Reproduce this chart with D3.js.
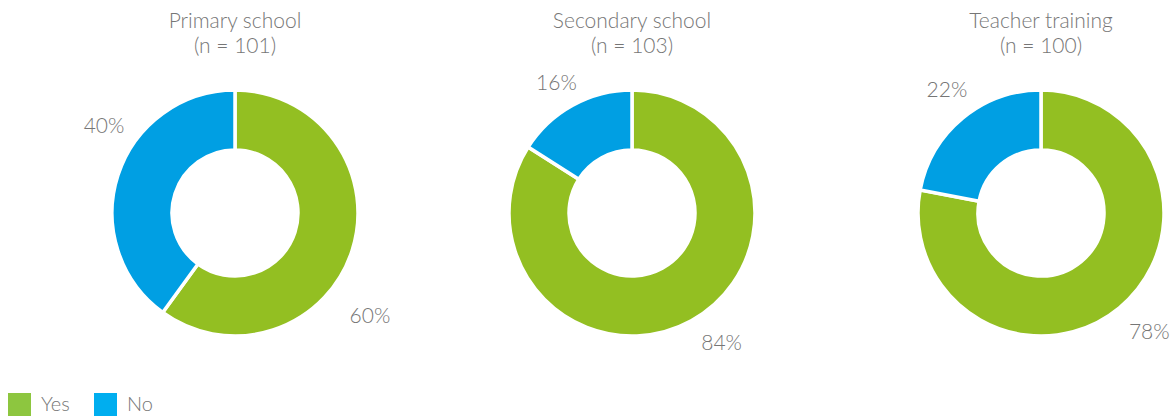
<!DOCTYPE html>
<html><head><meta charset="utf-8">
<script src="https://cdn.jsdelivr.net/npm/d3@7"></script>
<style>
body{margin:0;background:#fff;}
svg text{font-family:Lato,"Open Sans",sans-serif;font-weight:300;fill:#767676;}
</style></head>
<body><svg id="c" width="1175" height="416"></svg>
<script>
const groups = ["Primary school","Secondary school","Teacher training"];
const sampleSizes = [101,103,100];
const categories = ["Yes","No"];
const yesValues = [60,84,78];
const noValues = [40,16,22];

// layout (not data)
const centersX = [235,632,1041];
const centerY = 213;
const outerR = 123, innerR = 63;
const labelNudge = [[19,16],[-6,-1],[-3,2.5]]; // degrees, [Yes, No]
const labelRad = [[169,158],[157,152],[160,156]];
const sliceColor = d3.scaleOrdinal().domain(categories).range(["#93bf22","#009fe3"]);
const legendColor = d3.scaleOrdinal().domain(categories).range(["#8dc63f","#00aeef"]);

const svg = d3.select("#c");
const pie = d3.pie().sort(null).value(d=>d.v);
const arc = d3.arc().innerRadius(innerR).outerRadius(outerR);

groups.forEach((g,i)=>{
  const data = [{k:"Yes",v:yesValues[i]},{k:"No",v:noValues[i]}];
  const G = svg.append("g").attr("transform",`translate(${centersX[i]},${centerY})`);
  const arcs = pie(data);
  G.selectAll("path").data(arcs).join("path")
    .attr("d",arc).attr("fill",d=>sliceColor(d.data.k))
    .attr("stroke","#fff").attr("stroke-width",3.5);
  G.selectAll("text.lbl").data(arcs).join("text").attr("class","lbl")
    .attr("text-anchor","middle").attr("dominant-baseline","central")
    .style("font-size","21px")
    .attr("transform",(d,j)=>{
      const a = (d.startAngle+d.endAngle)/2 + labelNudge[i][j]*Math.PI/180;
      const r = labelRad[i][j];
      return `translate(${r*Math.sin(a)},${-r*Math.cos(a)})`;
    })
    .text(d=>d.data.v+"%");
  svg.append("text").attr("x",centersX[i]).attr("y",28).attr("text-anchor","middle").style("font-size","21px").text(g);
  svg.append("text").attr("x",centersX[i]).attr("y",53).attr("text-anchor","middle").style("font-size","21px").text(`(n = ${sampleSizes[i]})`);
});

const L = svg.append("g");
const legX = [8,94];
categories.forEach((c,i)=>{
  L.append("rect").attr("x",legX[i]).attr("y",393).attr("width",23).attr("height",23).attr("fill",legendColor(c));
  L.append("text").attr("x",legX[i]+33).attr("y",411).style("font-size","20px").text(c);
});
</script></body></html>
